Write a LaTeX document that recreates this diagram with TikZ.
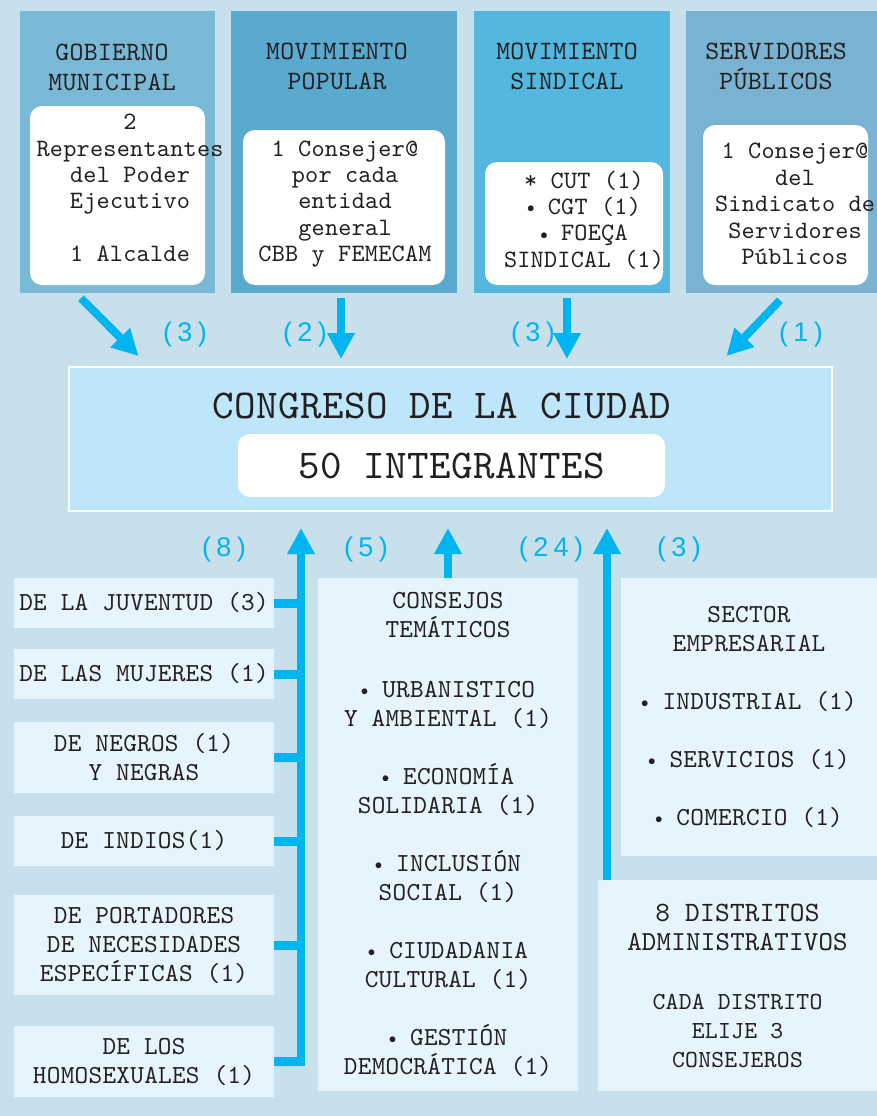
\documentclass[tikz,border=0pt]{standalone}
\usepackage{fontspec}
\usepackage{graphicx}
\setmainfont[LetterSpace=1]{lmmono10-regular.otf}
\newfontfamily\numfont[LetterSpace=20]{Liberation Sans}
\usetikzlibrary{positioning,arrows.meta}
\definecolor{fondo}{RGB}{199,224,235}
\definecolor{azulgob}{RGB}{122,185,214}
\definecolor{azulpop}{RGB}{90,170,207}
\definecolor{azulsin}{RGB}{84,183,224}
\definecolor{azulser}{RGB}{121,179,209}
\definecolor{cian}{RGB}{0,181,239}
\definecolor{congreso}{RGB}{189,230,250}
\definecolor{claro}{RGB}{230,245,253}
\definecolor{tinta}{RGB}{35,31,32}
\newcommand{\pto}{\raisebox{0.15ex}{\scalebox{0.6}{$\bullet$}}}

\begin{document}
\begin{tikzpicture}[x=1pt,y=-1pt,
  sector/.style={inner sep=0pt},
  blanca/.style={fill=white,rounded corners=12pt,inner sep=0pt},
  titulo/.style={align=center,text=tinta,font=\fontsize{26.5}{30}\selectfont},
  texto/.style={align=center,text=tinta,font=\fontsize{25}{26.4}\selectfont},
  caja/.style={fill=claro,inner sep=0pt,align=center,text=tinta,font=\fontsize{26}{29}\selectfont},
  flecha/.style={draw=cian,line width=8pt,-{Triangle[length=26pt,width=26pt]}},
  rama/.style={draw=cian,line width=9pt},
  cifra/.style={text=cian,font=\numfont\fontsize{27}{27}\selectfont}]

\fill[fondo] (0,0) rectangle (877,1116);
\useasboundingbox (0,0) rectangle (877,1116);

\node[sector,fill=azulgob,minimum width=195,minimum height=282] (gob) at (117.5,152) {};
\node[sector,fill=azulpop,minimum width=226,minimum height=282] (pop) at (344,152) {};
\node[sector,fill=azulsin,minimum width=196,minimum height=282] (sin) at (572,152) {};
\node[sector,fill=azulser,minimum width=191,minimum height=282] (ser) at (781.5,152) {};

\node[titulo] (gobtit) at (112,67) {GOBIERNO\\MUNICIPAL};
\node[titulo] (poptit) at (337,66) {MOVIMIENTO\\POPULAR};
\node[titulo] (sintit) at (567,66) {MOVIMIENTO\\SINDICAL};
\node[titulo] (sertit) at (776,66) {SERVIDORES\\PÚBLICOS};

\node[blanca,minimum width=175,minimum height=179] (gobin) at (117.5,195.5) {};
\node[blanca,minimum width=202,minimum height=155] (popin) at (344,207.5) {};
\node[blanca,minimum width=178,minimum height=123] (sinin) at (574,223.5) {};
\node[blanca,minimum width=165,minimum height=160] (serin) at (785.5,205) {};

\node[texto] (gobtx) at (130,188) {2\\Representantes\\del Poder\\Ejecutivo\\\strut\\1 Alcalde};
\node[texto] (poptx) at (345,204) {1 Consejer@\\por cada\\entidad\\general\\CBB y FEMECAM};
\node[texto] (sintx) at (584,220) {* CUT (1)\\\pto{} CGT (1)\\\pto{} FOEÇA\\SINDICAL (1)};
\node[texto] (sertx) at (795,204) {1 Consejer@\\del\\Sindicato de\\Servidores\\Públicos};

\node[sector,fill=congreso,draw=white,line width=2pt,minimum width=763,minimum height=144] (cong) at (450,439) {};
\node[text=tinta,font=\fontsize{41}{41}\selectfont] (congtit) at (442,406) {CONGRESO DE LA CIUDAD};
\node[blanca,text=tinta,font=\fontsize{41}{41}\selectfont,minimum width=427,minimum height=63] (integ) at (451.5,465.5) {50 INTEGRANTES};

\draw[flecha] ([shift={(-36.5,5)}]gob.south) -- ([shift={(71,-10)}]cong.north west);
\draw[flecha,shorten >=7pt] ([shift={(-3,5)}]pop.south) -- ([shift={(-3,0)}]pop.south |- cong.north);
\draw[flecha,shorten >=7pt] ([shift={(-5,5)}]sin.south) -- ([shift={(-5,0)}]sin.south |- cong.north);
\draw[flecha] ([shift={(-1.5,7)}]ser.south) -- ([shift={(-106,-10)}]cong.north east);

\node[cifra] (n1) at (185,335) {(3)};
\node[cifra] (n2) at (305,335) {(2)};
\node[cifra] (n3) at (533,335) {(3)};
\node[cifra] (n4) at (801,335) {(1)};

\node[caja,minimum width=260,minimum height=50] (juv) at (144,603) {DE LA JUVENTUD (3)};
\node[caja,minimum width=260,minimum height=50] (muj) at (144,674) {DE LAS MUJERES (1)};
\node[caja,minimum width=260,minimum height=71] (neg) at (144,757.5) {DE NEGROS (1)\\Y NEGRAS};
\node[caja,minimum width=260,minimum height=50] (ind) at (144,841) {DE INDIOS(1)};
\node[caja,minimum width=260,minimum height=100] (por) at (144,945) {DE PORTADORES\\DE NECESIDADES\\ESPECÍFICAS (1)};
\node[caja,minimum width=260,minimum height=71] (hom) at (144,1061.5) {DE LOS\\HOMOSEXUALES (1)};

\node[caja,minimum width=260,minimum height=513] (tem) at (448,834.5) {CONSEJOS\\TEMÁTICOS\\[31pt]\pto{} URBANISTICO\\Y AMBIENTAL (1)\\[29pt]\pto{} ECONOMÍA\\SOLIDARIA (1)\\[29pt]\pto{} INCLUSIÓN\\SOCIAL (1)\\[29pt]\pto{} CIUDADANIA\\CULTURAL (1)\\[29pt]\pto{} GESTIÓN\\DEMOCRÁTICA (1)};
\node[caja,minimum width=256,minimum height=278] (emp) at (749,717) {SECTOR\\EMPRESARIAL\\[29pt]\pto{} INDUSTRIAL (1)\\[29pt]\pto{} SERVICIOS (1)\\[29pt]\pto{} COMERCIO (1)};
\node[caja,minimum width=279,minimum height=211] (dis) at (737.5,985.5) {\fontsize{28}{33}\selectfont 8 DISTRITOS\\\fontsize{27.5}{33}\selectfont ADMINISTRATIVOS\\[30pt]\fontsize{24.5}{29}\selectfont CADA DISTRITO\\\fontsize{24.5}{29}\selectfont ELIJE 3\\\fontsize{24.5}{29}\selectfont CONSEJEROS};

\coordinate (lomo) at (301,1066);
\coordinate (dispie) at (607,880);
\draw[flecha,shorten >=16pt] (lomo) -- (lomo |- cong.south);
\foreach \g in {juv,muj,neg,ind,por,hom}
  \draw[rama] (\g.east) -- (\g.east -| lomo);
\draw[flecha,shorten >=16pt] (tem.north) -- (tem.north |- cong.south);
\draw[flecha,shorten >=16pt] (dispie) -- (dispie |- cong.south);

\node[cifra] (n5) at (224,550) {(8)};
\node[cifra] (n6) at (366,550) {(5)};
\node[cifra] (n7) at (551,550) {(24)};
\node[cifra] (n8) at (679,550) {(3)};
\end{tikzpicture}
\end{document}
